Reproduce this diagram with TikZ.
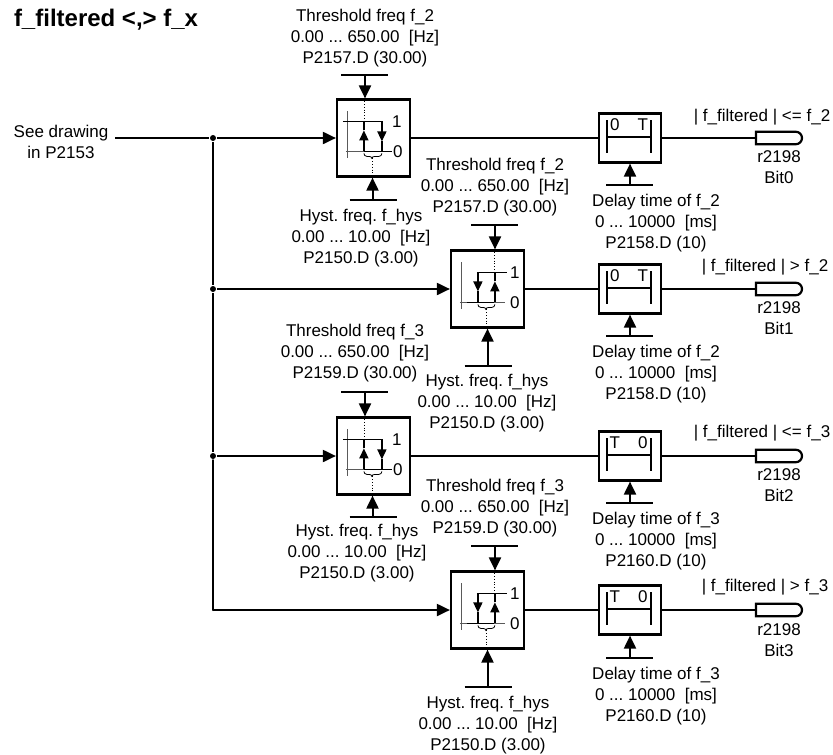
\documentclass[tikz,border=0pt]{standalone}
\usepackage{fontspec}
\setmainfont{Liberation Sans}[Ligatures=NoCommon]
\usepackage{tikz}
\usetikzlibrary{arrows.meta,shapes.misc,calc}
\definecolor{axisgrey}{RGB}{90,90,90}
\newcommand{\lbl}{\fontsize{17}{20.7}\selectfont\frenchspacing}
% hysteresis symbols, drawn from the north west corner of the box
\newcommand{\hystup}[1]{\begin{scope}[shift={(#1.north west)}]
  \draw[axis] (12,13) -- (12,60);
  \draw[axis] (10,53) -- (28,53);
  \draw[thin line] (7,23) -- (46,23);
  \draw[thin line] (28,53) -- (56,53);
  \draw[small] (28,53) -- (28,32);
  \draw[thin line] (28,32) -- (28,23);
  \draw[small] (46,23) -- (46,43);
  \draw[thin line] (46,43) -- (46,53);
  \draw[dotted,thick] (28,0) -- (28,23);
  \draw[thick] (28,55) to[out=-90,in=180] (31,58) -- (33,58) to[out=0,in=90] (36,60) to[out=90,in=180] (39,58) -- (43,58) to[out=0,in=-90] (46,55);
  \draw[dotted,thick] (36,60) -- (36,77);
  \node[lev] (#1one) at (61,23) {1};
  \node[lev] (#1zero) at (62,53) {0};
\end{scope}}
\newcommand{\hystdn}[1]{\begin{scope}[shift={(#1.north west)}]
  \draw[axis] (12,13) -- (12,60);
  \draw[axis] (10,53) -- (55,53);
  \draw[thin line] (27,23) -- (57,23);
  \draw[thin line] (17,53) -- (44,53);
  \draw[small] (28,23) -- (28,42);
  \draw[thin line] (28,42) -- (28,53);
  \draw[small] (45,53) -- (45,32);
  \draw[thin line] (45,32) -- (45,23);
  \draw[dotted,thick] (44,0) -- (44,23);
  \draw[thick] (28,55) to[out=-90,in=180] (31,58) -- (33,58) to[out=0,in=90] (36,60) to[out=90,in=180] (39,58) -- (42,58) to[out=0,in=-90] (45,55);
  \draw[dotted,thick] (36,60) -- (36,77);
  \node[lev] (#1one) at (65,23) {1};
  \node[lev] (#1zero) at (65,53) {0};
\end{scope}}
% delay element inside of the box
\newcommand{\dlyinner}[3]{\begin{scope}[shift={(#1.north west)}]
  \draw[thin line] (9,8) -- (9,41);
  \draw[thin line] (53,8) -- (53,41);
  \draw[thin line] (9,24.5) -- (53,24.5);
  \node[lev] (#1l) at (17,12) {#2};
  \node[lev] (#1r) at (45,12) {#3};
\end{scope}}

\begin{document}
\begin{tikzpicture}[
  x=1pt,y=-1pt,
  font=\lbl,
  line width=2pt,
  txt/.style={inner sep=0pt,align=center},
  lev/.style={inner sep=0pt},
  cmpbox/.style={draw,line width=2.2pt,inner sep=0pt,minimum width=73pt,minimum height=77pt},
  dlybox/.style={draw,line width=2.2pt,inner sep=0pt,minimum width=62pt,minimum height=49pt},
  pill/.style={draw,line width=2.2pt,rounded rectangle,rounded rectangle left arc=none,inner sep=0pt,minimum width=46pt,minimum height=12.5pt},
  dot/.style={circle,fill,inner sep=0pt,minimum size=6pt},
  sig/.style={-{Triangle[length=13pt,width=12pt]}},
  small/.style={-{Triangle[length=10pt,width=9pt]},line width=1.6pt},
  thin line/.style={line width=1.6pt},
  axis/.style={axisgrey,line width=1pt},
]
\useasboundingbox (0,0) rectangle (833,755);

\node[txt,anchor=west,font=\fontsize{24}{28}\selectfont\bfseries] (title) at (13,20) {f\_filtered <,> f\_x};
\node[txt] (src) at (61,142) {See drawing\\in P2153};
\coordinate (start) at (115,138);

\node[cmpbox] (cmp1) at (373.5,138) {};
\node[cmpbox] (cmp2) at (487.5,289) {};
\node[cmpbox] (cmp3) at (373.5,456) {};
\node[cmpbox] (cmp4) at (487.5,610) {};
\hystup{cmp1}
\hystdn{cmp2}
\hystup{cmp3}
\hystdn{cmp4}

\node[dlybox] (dly1) at (630,138) {};
\node[dlybox] (dly2) at (630,289) {};
\node[dlybox] (dly3) at (630,456) {};
\node[dlybox] (dly4) at (630,610) {};
\dlyinner{dly1}{0}{T}
\dlyinner{dly2}{0}{T}
\dlyinner{dly3}{T}{0}
\dlyinner{dly4}{T}{0}

\node[pill] (out1) at (779,138) {};
\node[pill] (out2) at (779,289) {};
\node[pill] (out3) at (779,456) {};
\node[pill] (out4) at (779,610) {};

% main signal
\node[dot] (j1) at (213,138) {};
\node[dot] (j2) at (213,289) {};
\node[dot] (j3) at (213,456) {};
\coordinate (j4) at (213,610);
\draw (start) -- (j1);
\draw (j1) -- (j2);
\draw (j2) -- (j3);
\draw[line cap=round] (j3) -- (j4);
\draw[sig] (j1) -- (cmp1.west);
\draw[sig] (j2) -- (cmp2.west);
\draw[sig] (j3) -- (cmp3.west);
\draw[sig] (j4) -- (cmp4.west);
\draw (cmp1.east) -- (dly1.west);
\draw (cmp2.east) -- (dly2.west);
\draw (cmp3.east) -- (dly3.west);
\draw (cmp4.east) -- (dly4.west);
\draw (dly1.east) -- (out1.west);
\draw (dly2.east) -- (out2.west);
\draw (dly3.east) -- (out3.west);
\draw (dly4.east) -- (out4.west);

% parameter inputs
\coordinate (t1) at (365,75);
\coordinate (t2) at (495,225);
\coordinate (t3) at (365,392);
\coordinate (t4) at (495,546);
\coordinate (h1) at (372.5,200);
\coordinate (h2) at (487.5,366);
\coordinate (h3) at (372.5,517);
\coordinate (h4) at (487.5,687);
\coordinate (d1) at (630,185);
\coordinate (d2) at (630,336);
\coordinate (d3) at (630,503);
\coordinate (d4) at (630,658);
\draw ([xshift=-24pt]t1) -- ([xshift=23pt]t1);
\draw ([xshift=-24pt]t2) -- ([xshift=23pt]t2);
\draw ([xshift=-24pt]t3) -- ([xshift=23pt]t3);
\draw ([xshift=-24pt]t4) -- ([xshift=23pt]t4);
\draw ([xshift=-23pt]h1) -- ([xshift=24pt]h1);
\draw ([xshift=-23pt]h2) -- ([xshift=24pt]h2);
\draw ([xshift=-23pt]h3) -- ([xshift=24pt]h3);
\draw ([xshift=-23pt]h4) -- ([xshift=24pt]h4);
\draw ([xshift=-24pt]d1) -- ([xshift=23pt]d1);
\draw ([xshift=-24pt]d2) -- ([xshift=23pt]d2);
\draw ([xshift=-24pt]d3) -- ([xshift=23pt]d3);
\draw ([xshift=-24pt]d4) -- ([xshift=23pt]d4);
\draw[sig] (t1) -- (t1 |- cmp1.north);
\draw[sig] (t2) -- (t2 |- cmp2.north);
\draw[sig] (t3) -- (t3 |- cmp3.north);
\draw[sig] (t4) -- (t4 |- cmp4.north);
\draw[sig] (h1) -- (h1 |- cmp1.south);
\draw[sig] (h2) -- (h2 |- cmp2.south);
\draw[sig] (h3) -- (h3 |- cmp3.south);
\draw[sig] (h4) -- (h4 |- cmp4.south);
\draw[sig] (d1) -- (d1 |- dly1.south);
\draw[sig] (d2) -- (d2 |- dly2.south);
\draw[sig] (d3) -- (d3 |- dly3.south);
\draw[sig] (d4) -- (d4 |- dly4.south);

% labels
\node[txt] (lt1) at (365,38) {Threshold freq f\_2\\0.00 ... 650.00 \ [Hz]\\P2157.D (30.00)};
\node[txt] (lt2) at (495,187) {Threshold freq f\_2\\0.00 ... 650.00 \ [Hz]\\P2157.D (30.00)};
\node[txt] (lt3) at (355,353) {Threshold freq f\_3\\0.00 ... 650.00 \ [Hz]\\P2159.D (30.00)};
\node[txt] (lt4) at (495,508) {Threshold freq f\_3\\0.00 ... 650.00 \ [Hz]\\P2159.D (30.00)};
\node[txt] (lh1) at (361,238) {Hyst. freq. f\_hys\\0.00 ... 10.00 \ [Hz]\\P2150.D (3.00)};
\node[txt] (lh2) at (487,403) {Hyst. freq. f\_hys\\0.00 ... 10.00 \ [Hz]\\P2150.D (3.00)};
\node[txt] (lh3) at (357,553) {Hyst. freq. f\_hys\\0.00 ... 10.00 \ [Hz]\\P2150.D (3.00)};
\node[txt] (lh4) at (488,725) {Hyst. freq. f\_hys\\0.00 ... 10.00 \ [Hz]\\P2150.D (3.00)};
\node[txt] (ld1) at (656,223) {Delay time of f\_2\\0 ... 10000 \ [ms]\\P2158.D (10)};
\node[txt] (ld2) at (656,374) {Delay time of f\_2\\0 ... 10000 \ [ms]\\P2158.D (10)};
\node[txt] (ld3) at (656,541) {Delay time of f\_3\\0 ... 10000 \ [ms]\\P2160.D (10)};
\node[txt] (ld4) at (656,696) {Delay time of f\_3\\0 ... 10000 \ [ms]\\P2160.D (10)};
\node[txt] (lo1) at (762,117) {| f\_filtered | <= f\_2};
\node[txt] (lo2) at (765,267) {| f\_filtered | > f\_2};
\node[txt] (lo3) at (762,433) {| f\_filtered | <= f\_3};
\node[txt] (lo4) at (765,587) {| f\_filtered | > f\_3};
\node[txt] (r1) at (779,167) {r2198\\Bit0};
\node[txt] (r2) at (779,318) {r2198\\Bit1};
\node[txt] (r3) at (779,485) {r2198\\Bit2};
\node[txt] (r4) at (779,640) {r2198\\Bit3};
\end{tikzpicture}
\end{document}
